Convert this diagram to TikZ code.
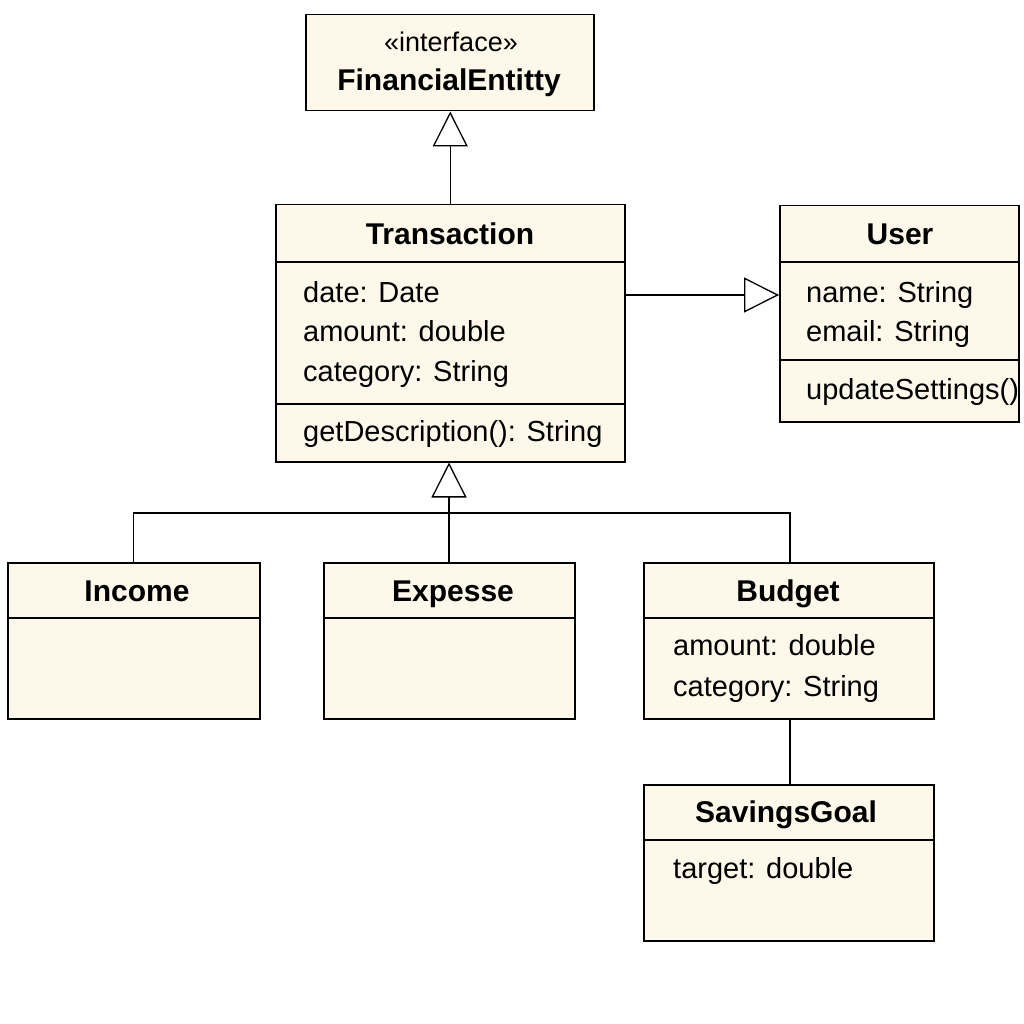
\documentclass[tikz,border=0pt]{standalone}
\usepackage{fontspec}
\setmainfont{Liberation Sans}
\usetikzlibrary{arrows.meta}
\definecolor{cream}{HTML}{FDF8EA}
\tikzset{
  cls/.style={draw=black, line width=1.5pt, fill=cream, rectangle, inner sep=0pt, anchor=north west},
  ttl/.style={font=\fontsize{30}{36}\selectfont\bfseries, inner sep=0pt, anchor=base},
  attr/.style={font=\fontsize{29}{34}\selectfont, inner sep=0pt, anchor=base west},
  stereo/.style={font=\fontsize{27}{32}\selectfont, inner sep=0pt, anchor=base},
  sep/.style={line width=1.3pt},
  conn/.style={line width=1.3pt},
  inh/.style={line width=1.3pt, -{Triangle[open, length=35pt, width=35pt, fill=white]}},
}
\begin{document}
\begin{tikzpicture}[x=1pt, y=-1pt]
\useasboundingbox (0,0) rectangle (1024,1024);
% boxes
\node[cls, minimum width=288pt, minimum height=96pt] (fe) at (305,14) {};
\node[cls, minimum width=349pt, minimum height=257pt] (trans) at (275,204) {};
\node[cls, minimum width=239pt, minimum height=216pt] (user) at (779,205) {};
\node[cls, minimum width=252pt, minimum height=156pt] (income) at (7,562) {};
\node[cls, minimum width=251pt, minimum height=156pt] (expesse) at (323,562) {};
\node[cls, minimum width=290pt, minimum height=156pt] (budget) at (643,562) {};
\node[cls, minimum width=290pt, minimum height=156pt] (goal) at (643,784) {};
% dividers
\coordinate (t1) at (0,262); \coordinate (t2) at (0,404);
\draw[sep] (trans.west |- t1) -- (trans.east |- t1);
\draw[sep] (trans.west |- t2) -- (trans.east |- t2);
\coordinate (u1) at (0,262); \coordinate (u2) at (0,360);
\draw[sep] (user.west |- u1) -- (user.east |- u1);
\draw[sep] (user.west |- u2) -- (user.east |- u2);
\coordinate (b1) at (0,618);
\draw[sep] (income.west |- b1) -- (income.east |- b1);
\draw[sep] (expesse.west |- b1) -- (expesse.east |- b1);
\draw[sep] (budget.west |- b1) -- (budget.east |- b1);
\coordinate (g1) at (0,840);
\draw[sep] (goal.west |- g1) -- (goal.east |- g1);
% texts
\node[stereo] (festereo) at (451,52) {«interface»};
\node[ttl] (fetitle) at (449,91) {FinancialEntitty};
\node[ttl] (ttitle) at (450,244) {Transaction};
\node[attr] (ta1) at (303,302) {date: Date};
\node[attr] (ta2) at (303,341) {amount: double};
\node[attr] (ta3) at (303,381) {category: String};
\node[attr] (tm1) at (303,441) {getDescription(): String};
\node[ttl] (utitle) at (900,244) {User};
\node[attr] (ua1) at (806,302) {name: String};
\node[attr] (ua2) at (806,341) {email: String};
\node[attr] (um1) at (806,399) {updateSettings()};
\node[ttl] (ititle) at (137,601) {Income};
\node[ttl] (etitle) at (453,601) {Expesse};
\node[ttl] (btitle) at (788,601) {Budget};
\node[attr] (ba1) at (673,655) {amount: double};
\node[attr] (ba2) at (673,696) {category: String};
\node[ttl] (gtitle) at (786,822) {SavingsGoal};
\node[attr] (ga1) at (673,878) {target: double};
% connectors
\draw[inh] (trans.north) -- (fe.south -| trans.north);
\coordinate (uy) at (0,295);
\draw[inh] (trans.east |- uy) -- (user.west |- uy);
\coordinate (j) at (449,513);
\coordinate (bx) at (790,0);
\draw[inh] (j |- expesse.north) -- (j |- trans.south);
\draw[conn] (income.north) |- (j);
\draw[conn] (bx |- budget.north) |- (j);
\draw[conn] (bx |- budget.south) -- (bx |- goal.north);
\end{tikzpicture}
\end{document}
